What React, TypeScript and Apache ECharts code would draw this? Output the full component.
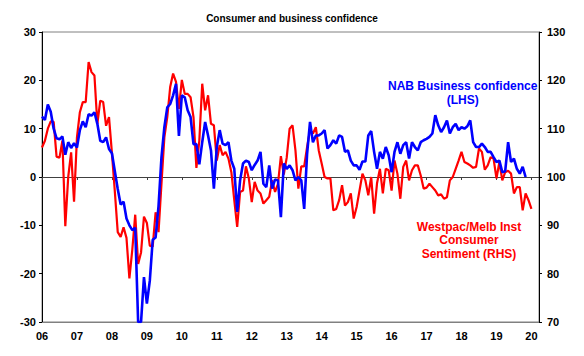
import React, { useEffect, useRef } from "react";
import * as echarts from "echarts";

// Tick labels (one per January, 2006..2020)
const yearLabels = ["06", "07", "08", "09", "10", "11", "12", "13", "14", "15", "16", "17", "18", "19", "20"];

// NAB Business confidence (LHS, net balance), monthly from Jan 2006
const nab2006 = [12.5, 11.8, 15, 13.5, 10, 8, 7.8, 8.4, 4.6, 7.2, 6, 7];
const nab2007 = [6.1, 9.7, 11.5, 10.3, 13, 12.7, 13.4, 11, 7.5, 7.2, 8.2, 5.8];
const nab2008 = [4.9, 1.2, -2.5, -5.7, -5.1, -8.6, -10, -11, -10.5, -30, -30, -20.7];
const nab2009 = [-26.2, -21.5, -13, -12.5, -6, 4, 10.3, 14.4, 15.1, 16.9, 19.3, 8.5];
const nab2010 = [16.9, 16.5, 13.8, 12.4, 6.8, 6.8, 2.6, 7.2, 11.4, 8.6, 5.5, -2.4];
const nab2011 = [6.2, 9.7, 6.9, 6.6, 7.2, 3.4, 1.7, -7.2, -0.7, 2.8, 3.4, 3.1];
const nab2012 = [1.4, 2.5, 3.4, 5.2, -1.4, -2.1, 2.4, -2.4, -0.5, -0.7, -8.3, 2.8];
const nab2013 = [1.7, 2.4, 1.4, -0.7, 0, -0.7, -6.6, 4.8, 11.4, 7.2, 8.6, 8.6];
const nab2014 = [9, 9.7, 5.9, 6.6, 7.6, 6.9, 8.6, 8.3, 5.2, 5.5, 3.4, 2.4];
const nab2015 = [2.4, 1.5, 3.2, 3.2, 8.6, 9.5, 5.2, 1.7, 5.2, 3.8, 6.2, 4.5];
const nab2016 = [1, 5.2, 7.2, 4.8, 6.6, 7.2, 3.8, 7.2, 6.2, 5.5, 7.2, 7.6];
const nab2017 = [7.9, 8.3, 9, 12.8, 10.7, 9.3, 10.3, 11.7, 9, 10.3, 11, 9.7];
const nab2018 = [10.3, 10, 10.5, 11.7, 7.2, 6.2, 6.2, 6.9, 6.2, 5.2, 5.2, 4.1];
const nab2019 = [3.1, 3.4, 1, 1.2, 7.2, 3.1, 3.8, 1.7, 0.7, 2.1, 0];

// Westpac/Melbourne Institute Consumer Sentiment (RHS, index), monthly from Jan 2006
const wp2006 = [106.1, 107.5, 110, 111.5, 111.4, 104.2, 104, 107.5, 89.8, 100, 105.1, 94.9];
const wp2007 = [108.2, 113.4, 115.5, 115.5, 123.8, 121.7, 121, 111, 115.8, 115.5, 110.6, 112.4];
const wp2008 = [105, 97, 88.6, 87.6, 89.6, 87.4, 79, 85, 92.2, 82, 84.4, 91.8];
const wp2009 = [90.5, 85.8, 85.6, 92.7, 88.6, 98.5, 108.2, 112.4, 118.6, 121.4, 119.7, 114.1];
const wp2010 = [120.1, 117.2, 117.2, 116.5, 112.4, 101.9, 107.5, 119.3, 113.8, 116.9, 111, 110.7];
const wp2011 = [103.4, 106.6, 104.5, 105.2, 103.8, 101, 95.2, 89.7, 96.9, 97.2, 102.2, 99.7];
const wp2012 = [94.8, 99, 97.2, 96.6, 94.5, 95.2, 95.9, 99.3, 96.9, 98.6, 104.3, 100.5];
const wp2013 = [104, 110, 110.7, 105.5, 97.6, 102.2, 102.2, 106.2, 109.7, 109, 110.3, 105.5];
const wp2014 = [102.8, 100, 99.7, 99.7, 93.1, 93.4, 95.2, 98.3, 94.1, 94.8, 96.6, 91.4];
const wp2015 = [93.8, 97.2, 100.7, 99.3, 96.2, 100, 92.4, 98.7, 101.7, 96.6, 101.7, 101.4];
const wp2016 = [97.2, 103.4, 100.7, 95.5, 102.1, 103.4, 99.3, 101.4, 102.4, 102.4, 100.3, 97.6];
const wp2017 = [97.8, 98.6, 97.9, 97.2, 96.2, 96.4, 95.5, 95.8, 99.3, 100, 101.7, 103.4];
const wp2018 = [105.2, 103.1, 102.8, 102.4, 101.9, 102.1, 105.9, 105.2, 101.5, 102.4, 104.1, 103.8];
const wp2019 = [99.7, 103.1, 99.3, 101, 101.3, 100.7, 96.6, 97.9, 97.9, 93.1, 96.6, 95.2];
const wp2020 = [93.4];

const nabConfidence = [
  ...nab2006, ...nab2007, ...nab2008, ...nab2009, ...nab2010, ...nab2011, ...nab2012,
  ...nab2013, ...nab2014, ...nab2015, ...nab2016, ...nab2017, ...nab2018, ...nab2019,
];
const westpacSentiment = [
  ...wp2006, ...wp2007, ...wp2008, ...wp2009, ...wp2010, ...wp2011, ...wp2012,
  ...wp2013, ...wp2014, ...wp2015, ...wp2016, ...wp2017, ...wp2018, ...wp2019, ...wp2020,
];

const FONT = "Arial, 'Liberation Sans', sans-serif";
const yearTicks = yearLabels.map((_, i) => i * 12);

export default function App() {
  const ref = useRef<HTMLDivElement>(null);

  useEffect(() => {
    if (!ref.current) return;
    const chart = echarts.init(ref.current, null, { renderer: "svg" });
    const axisLabelStyle = { color: "#000", fontSize: 11, fontWeight: "bold" as const, fontFamily: FONT };
    chart.setOption({
      animation: false,
      backgroundColor: "#fff",
      title: {
        text: "Consumer and business confidence",
        left: "center",
        top: 8,
        textStyle: { fontSize: 10, fontWeight: "bold", color: "#000", fontFamily: FONT },
      },
      grid: {
        left: 42,
        right: 45,
        top: 32,
        bottom: 34,
        show: true,
        borderColor: "#808080",
        borderWidth: 1,
        backgroundColor: "transparent",
      },
      xAxis: [
        {
          type: "value",
          min: 0,
          max: 170.6,
          position: "bottom",
          splitLine: { show: false },
          axisLine: { show: true, onZero: false, lineStyle: { color: "#808080", width: 1 } },
          axisTick: { show: false },
          axisLabel: {
            ...axisLabelStyle,
            margin: 8,
            customValues: yearTicks,
            formatter: (v: number) => yearLabels[Math.round(v / 12)] ?? "",
          },
        },
        {
          type: "value",
          min: 0,
          max: 170.6,
          position: "bottom",
          splitLine: { show: false },
          axisLine: { show: true, onZero: true, lineStyle: { color: "#404040", width: 1 } },
          axisTick: { show: true, inside: false, length: 3, customValues: yearTicks, lineStyle: { color: "#404040" } },
          axisLabel: { show: false },
        },
      ],
      yAxis: [
        {
          type: "value",
          min: -30,
          max: 30,
          interval: 10,
          position: "left",
          splitLine: { show: false },
          axisLine: { show: true, onZero: false, lineStyle: { color: "#000", width: 1 } },
          axisTick: { show: true, inside: false, length: 3, lineStyle: { color: "#000" } },
          axisLabel: { ...axisLabelStyle, margin: 6 },
        },
        {
          type: "value",
          min: 70,
          max: 130,
          interval: 10,
          position: "right",
          splitLine: { show: false },
          axisLine: { show: true, onZero: false, lineStyle: { color: "#000", width: 1 } },
          axisTick: { show: true, inside: false, length: 3, lineStyle: { color: "#000" } },
          axisLabel: { ...axisLabelStyle, margin: 8 },
        },
      ],
      series: [
        {
          name: "Westpac/Melb Inst Consumer Sentiment (RHS)",
          type: "line",
          xAxisIndex: 0,
          yAxisIndex: 1,
          data: westpacSentiment.map((v, i) => [i, v]),
          showSymbol: false,
          symbol: "none",
          lineStyle: { color: "#ff0000", width: 2.2 },
          clip: true,
          z: 2,
        },
        {
          name: "NAB Business confidence (LHS)",
          type: "line",
          xAxisIndex: 0,
          yAxisIndex: 0,
          data: nabConfidence.map((v, i) => [i, v]),
          showSymbol: false,
          symbol: "none",
          lineStyle: { color: "#0000ff", width: 2.6 },
          clip: true,
          z: 3,
        },
      ],
      graphic: [
        {
          type: "text",
          left: 388,
          top: 79,
          style: {
            text: "NAB Business confidence\n(LHS)",
            fill: "#0000ff",
            font: `bold 12px ${FONT}`,
            textAlign: "center",
            lineHeight: 14,
            width: 146,
          },
        },
        {
          type: "text",
          left: 416,
          top: 220,
          style: {
            text: "Westpac/Melb Inst\nConsumer\nSentiment (RHS)",
            fill: "#ff0000",
            font: `bold 12px ${FONT}`,
            textAlign: "center",
            lineHeight: 13.5,
            width: 106,
          },
        },
      ],
    });
    return () => chart.dispose();
  }, []);

  return (
    <div
      ref={ref}
      style={{ position: "fixed", left: 0, top: 0, width: 584, height: 356, background: "#fff" }}
    />
  );
}
